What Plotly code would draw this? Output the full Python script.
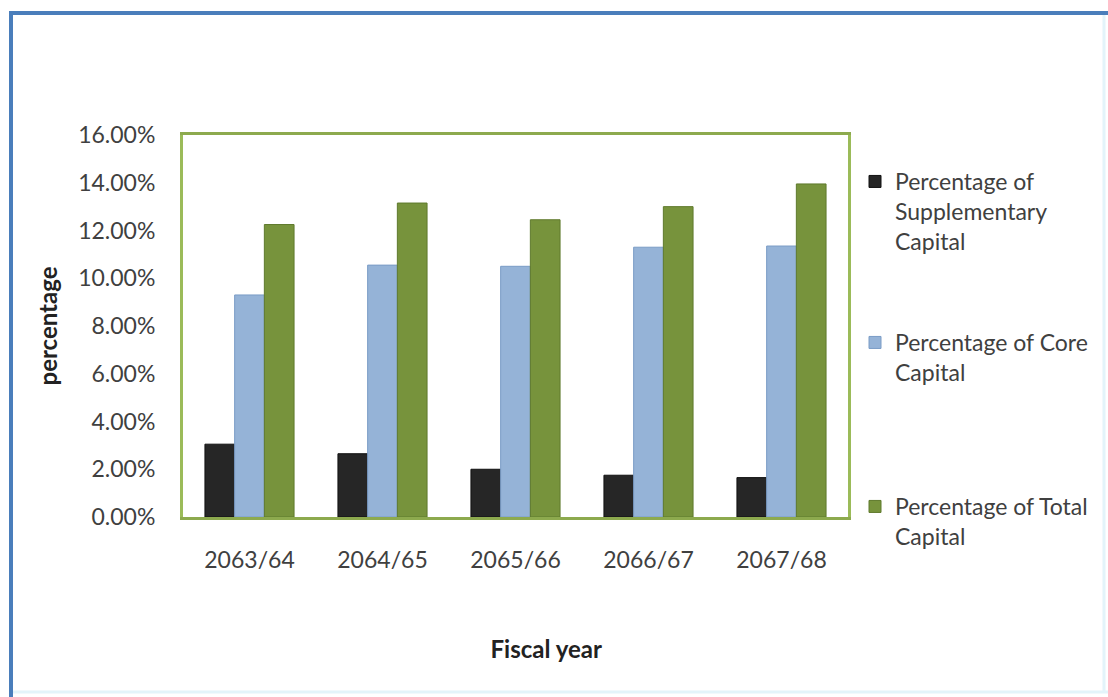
import plotly.graph_objects as go

years = ["2063/64", "2064/65", "2065/66", "2066/67", "2067/68"]
supplementary = [0.0305, 0.0265, 0.0200, 0.0175, 0.0165]
core = [0.0930, 0.1055, 0.1050, 0.1130, 0.1135]
total = [0.1225, 0.1315, 0.1245, 0.1300, 0.1395]

names = [
    "Percentage of<br>Supplementary<br>Capital",
    "Percentage of Core<br>Capital",
    "Percentage of Total<br>Capital",
]

FONT = "Lato"
TXT = "#404040"
FS = 23

fig = go.Figure()
fig.add_trace(go.Bar(x=years, y=supplementary, name=names[0], legend="legend", showlegend=True,
                     marker=dict(color="#262626", line=dict(color="#111111", width=1))))
fig.add_trace(go.Bar(x=years, y=core, name=names[1], legend="legend2", showlegend=True,
                     marker=dict(color="#95B3D7", line=dict(color="#7A9CC6", width=1))))
fig.add_trace(go.Bar(x=years, y=total, name=names[2], legend="legend3", showlegend=True,
                     marker=dict(color="#77933C", line=dict(color="#5F7A2C", width=1))))

L, R, T, B = 183, 260, 135, 180
W, H = 1108, 697
pw, ph = W - L - R, H - T - B

def px(x):
    return (x - L) / pw

def py(y):
    return (H - B - y) / ph

legend_common = dict(font=dict(family=FONT, size=FS, color=TXT), bgcolor="rgba(0,0,0,0)",
                     xanchor="left", yanchor="top", valign="top", x=px(855), visible=True)

fig.update_layout(
    width=W, height=H,
    margin=dict(l=L, r=R, t=T, b=B),
    paper_bgcolor="white", plot_bgcolor="white",
    showlegend=True,
    barmode="group", bargap=0.33, bargroupgap=0,
    font=dict(family=FONT, size=FS, color=TXT),
    legend=dict(**legend_common, y=py(160)),
    legend2=dict(**legend_common, y=py(321)),
    legend3=dict(**legend_common, y=py(485)),
    xaxis=dict(
        showline=True, linecolor="#8DAA4E", linewidth=3, mirror=True,
        ticks="", ticklabelstandoff=20,
        tickfont=dict(family=FONT, size=FS, color=TXT),
        title=dict(text="&nbsp;" * 10 + "<b>Fiscal year</b>",
                   font=dict(family=FONT, size=24, color="#222222"), standoff=70),
    ),
    yaxis=dict(
        range=[0, 0.16], dtick=0.02, tickformat=".2%",
        showgrid=False, zeroline=False,
        showline=True, linecolor="#9BBB59", linewidth=3, mirror=True,
        ticks="", ticklabelstandoff=20,
        tickfont=dict(family=FONT, size=FS, color=TXT),
        title=dict(text="<b>percentage</b>", font=dict(family=FONT, size=24, color="#222222"), standoff=14),
    ),
    shapes=[
        dict(type="line", xref="paper", yref="paper", x0=px(11), x1=px(1108), y0=py(13), y1=py(13),
             line=dict(color="#4A7EBB", width=4)),
        dict(type="line", xref="paper", yref="paper", x0=px(11), x1=px(11), y0=py(11), y1=py(697),
             line=dict(color="#4A7EBB", width=4)),
        dict(type="line", xref="paper", yref="paper", x0=px(13), x1=px(1108), y0=py(692), y1=py(692),
             line=dict(color="#E3F4FA", width=3)),
        dict(type="line", xref="paper", yref="paper", x0=px(1104), x1=px(1104), y0=py(15), y1=py(692),
             line=dict(color="#E3F4FA", width=3)),
    ],
)

fig.write_html("out.html")
